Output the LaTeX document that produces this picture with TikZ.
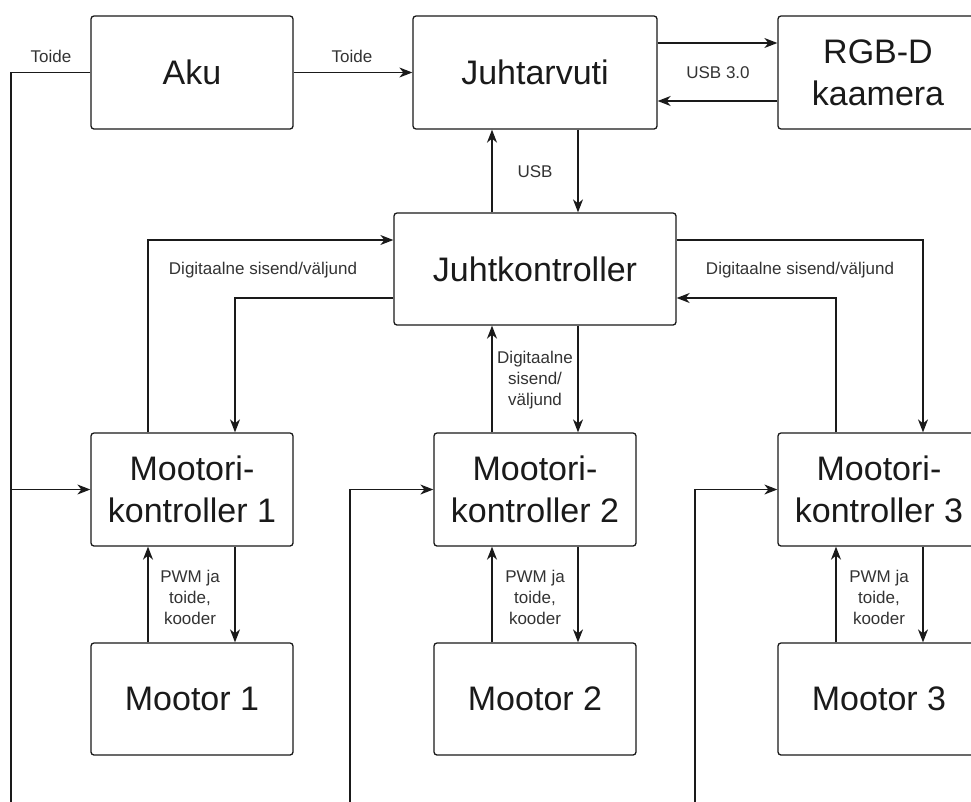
\documentclass[tikz,border=0pt]{standalone}
\usepackage{fontspec}
\setmainfont{Liberation Sans}
\usetikzlibrary{arrows.meta}
\definecolor{ink}{HTML}{1A1A1A}
\definecolor{lbl}{HTML}{333333}
\tikzset{
  blk/.style={draw=ink, line width=1.3pt, rounded corners=3pt, minimum width=202pt, minimum height=113pt, inner sep=0pt, align=center, text=ink, font=\fontsize{34}{42}\selectfont},
  conn/.style={draw=ink, line width=1.3pt},
  arr/.style={conn, -{Stealth[length=13pt,width=10pt,inset=4pt]}},
  lab/.style={text=lbl, font=\fontsize{17}{21}\selectfont, align=center, inner sep=0pt}
}
\begin{document}
\begin{tikzpicture}[x=1pt,y=-1pt]
\useasboundingbox (0,0) rectangle (971,801);
\clip (0,0) rectangle (971,801);
\fill[white] (0,0) rectangle (971,801);
% blocks
\node[blk] (aku) at (192,72.5) {Aku};
\node[blk, minimum width=244pt] (juht) at (535,72.5) {Juhtarvuti};
\node[blk, minimum width=200pt] (rgbd) at (878,72.5) {RGB-D\\kaamera};
\node[blk, minimum width=282pt, minimum height=112pt] (jk) at (535,269) {Juhtkontroller};
\node[blk] (mk1) at (192,489.5) {Mootori-\\kontroller 1};
\node[blk] (mk2) at (535,489.5) {Mootori-\\kontroller 2};
\node[blk] (mk3) at (879,489.5) {Mootori-\\kontroller 3};
\node[blk, minimum height=112pt] (m1) at (192,699) {Mootor 1};
\node[blk, minimum height=112pt] (m2) at (535,699) {Mootor 2};
\node[blk, minimum height=112pt] (m3) at (879,699) {Mootor 3};
% power
\coordinate (p0) at (11,810);
\coordinate (p2) at (350,810);
\coordinate (p3) at (695,810);
\draw[conn] (aku.west) -| (p0);
\draw[arr] (p0 |- mk1.west) -- (mk1.west);
\draw[arr] (p2) |- (mk2.west);
\draw[arr] (p3) |- (mk3.west);
\draw[arr] (aku.east) -- (juht.west);
% camera
\draw[arr] ([yshift=29.5pt]juht.east) -- ([yshift=29.5pt]rgbd.west);
\draw[arr] ([yshift=-28.5pt]rgbd.west) -- ([yshift=-28.5pt]juht.east);
% USB
\draw[arr] ([xshift=-43pt]jk.north) -- ([xshift=-43pt]juht.south);
\draw[arr] ([xshift=43pt]juht.south) -- ([xshift=43pt]jk.north);
% digital IO
\draw[arr] ([xshift=-44pt]mk1.north) |- ([yshift=29pt]jk.west);
\draw[arr] ([yshift=-29pt]jk.west) -| ([xshift=43pt]mk1.north);
\draw[arr] ([yshift=29pt]jk.east) -| ([xshift=44pt]mk3.north);
\draw[arr] ([xshift=-43pt]mk3.north) |- ([yshift=-29pt]jk.east);
\draw[arr] ([xshift=-43pt]mk2.north) -- ([xshift=-43pt]jk.south);
\draw[arr] ([xshift=43pt]jk.south) -- ([xshift=43pt]mk2.north);
% PWM
\draw[arr] ([xshift=-44pt]m1.north) -- ([xshift=-44pt]mk1.south);
\draw[arr] ([xshift=43pt]mk1.south) -- ([xshift=43pt]m1.north);
\draw[arr] ([xshift=-43pt]m2.north) -- ([xshift=-43pt]mk2.south);
\draw[arr] ([xshift=43pt]mk2.south) -- ([xshift=43pt]m2.north);
\draw[arr] ([xshift=-43pt]m3.north) -- ([xshift=-43pt]mk3.south);
\draw[arr] ([xshift=44pt]mk3.south) -- ([xshift=44pt]m3.north);
% labels
\node[lab] (l1) at (51,56) {Toide};
\node[lab] (l2) at (352,56) {Toide};
\node[lab] (l3) at (718,73) {USB 3.0};
\node[lab] (l4) at (535,172) {USB};
\node[lab] (l5) at (263,270) {Digitaalne sisend/väljund};
\node[lab] (l6) at (800,270) {Digitaalne sisend/väljund};
\node[lab] (l7) at (535,380) {Digitaalne\\sisend/\\väljund};
\node[lab] (l8) at (190,597) {PWM ja\\toide,\\kooder};
\node[lab] (l9) at (535,597) {PWM ja\\toide,\\kooder};
\node[lab] (l10) at (879,597) {PWM ja\\toide,\\kooder};
\end{tikzpicture}
\end{document}
